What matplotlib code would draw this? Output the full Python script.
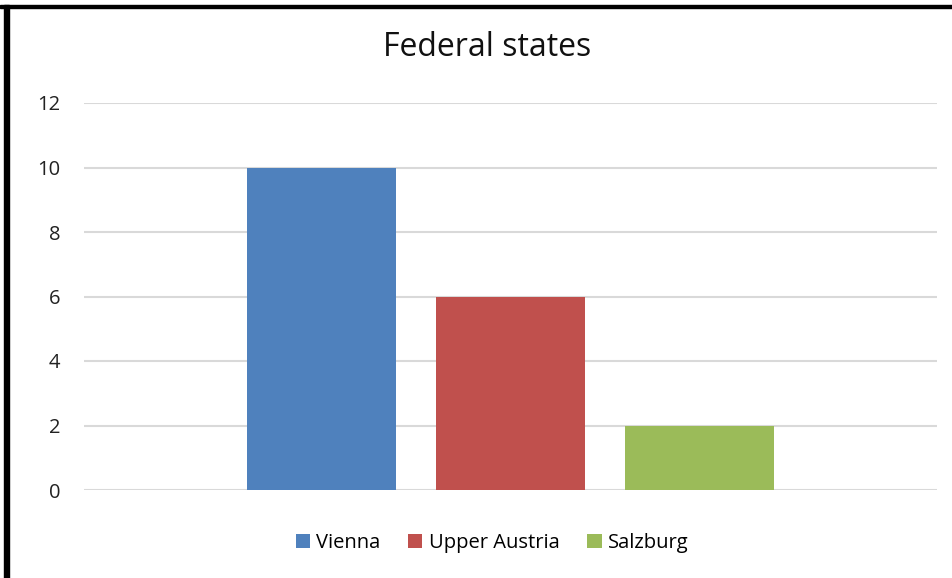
import matplotlib.pyplot as plt
from matplotlib.patches import Rectangle

states = ['Vienna', 'Upper Austria', 'Salzburg']
counts = [10, 6, 2]
colors = ['#4f81bd', '#c0504d', '#9bbb59']
yticks = [0, 2, 4, 6, 8, 10, 12]

plt.rcParams['font.family'] = ['Open Sans', 'DejaVu Sans']

W, H = 953, 578
fig = plt.figure(figsize=(W / 100, H / 100), dpi=100)
ax = fig.add_axes([84 / W, (H - 490) / H, (937 - 84) / W, (490 - 103) / H])

pos = [i - 1 for i in range(len(states))]
for p, c, col, name in zip(pos, counts, colors, states):
    ax.bar(p, c, width=0.788, color=col, label=name, zorder=2)

ax.set_xlim(-2.257, 2.257)
ax.set_ylim(0, 12)
ax.set_yticks(yticks)
ax.set_xticks([])
ax.yaxis.grid(True, color='#d9d9d9', linewidth=1.5, zorder=0)
ax.tick_params(axis='y', length=0, pad=17, labelsize=14.5, labelcolor='#222222')
for s in ax.spines.values():
    s.set_visible(False)

fig.text(487 / W, 1 - 48 / H, 'Federal states', ha='center', va='center',
         fontsize=23, color='#111111')

fig.legend(loc='center', bbox_to_anchor=(492 / W, 1 - 543 / H), ncol=3,
           frameon=False, fontsize=14.5, handlelength=0.7, handleheight=0.7,
           handletextpad=0.3, columnspacing=1.4)

# black frame on top and left like the screenshot
fig.patches.append(Rectangle((0, 1 - 8 / H), 1, 3 / H, transform=fig.transFigure,
                             color='black', zorder=10))
fig.patches.append(Rectangle((4 / W, 0), 5 / W, 1 - 5 / H, transform=fig.transFigure,
                             color='black', zorder=10))

fig.savefig('out.png', dpi=100)
